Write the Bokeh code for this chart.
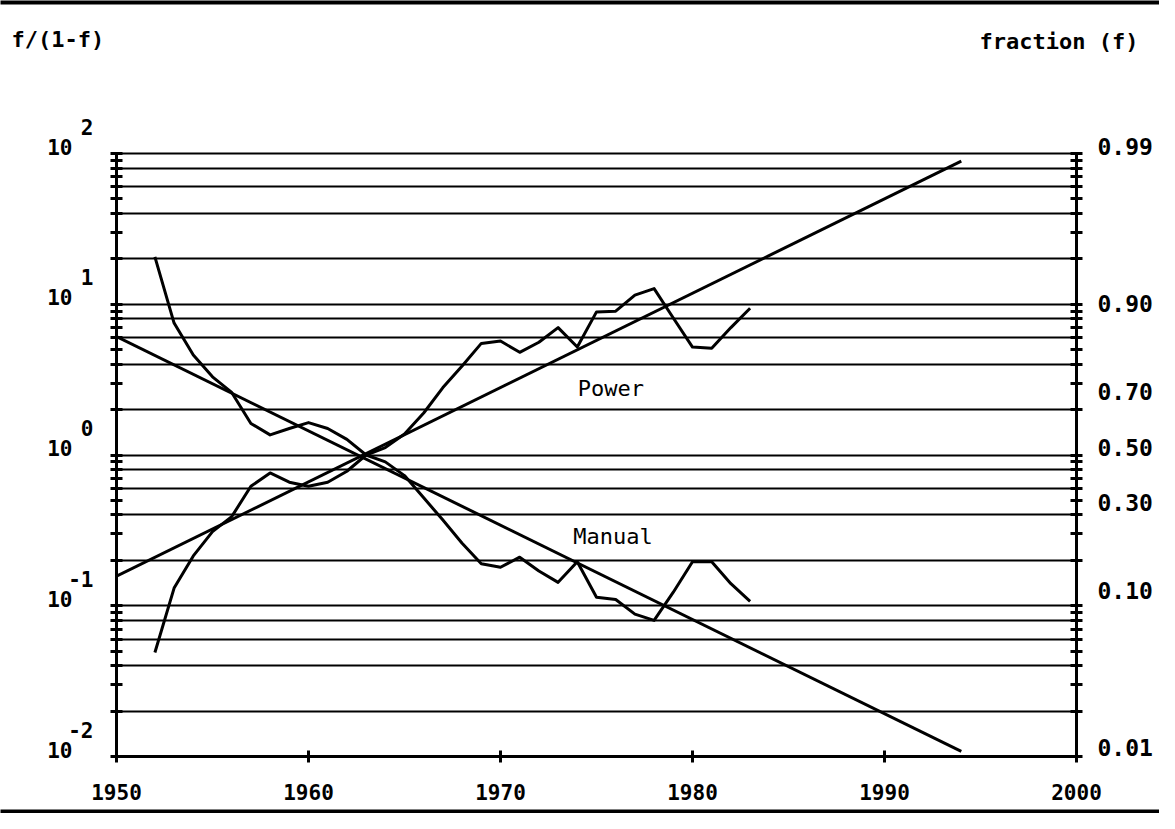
from bokeh.plotting import figure
from bokeh.models import Range1d, FixedTicker, LogAxis, Label
from bokeh.core.properties import value
from bokeh.embed import file_html
from bokeh.resources import INLINE

# ---------------- data ----------------
years = list(range(1952, 1984))
power = [0.049, 0.131, 0.214, 0.31, 0.39, 0.62, 0.76, 0.66, 0.62, 0.66, 0.78, 1.0,
         1.12, 1.38, 1.9, 2.8, 3.9, 5.5, 5.7, 4.8, 5.6, 7.0, 5.2, 8.9, 9.0, 11.5,
         12.7, 8.1, 5.2, 5.1, 7.0, 9.4]
manual = [20.6, 7.5, 4.6, 3.3, 2.6, 1.62, 1.36, 1.5, 1.64, 1.5, 1.27, 1.0,
          0.9, 0.73, 0.52, 0.37, 0.26, 0.19, 0.18, 0.21, 0.17, 0.143, 0.196, 0.114,
          0.11, 0.088, 0.08, 0.123, 0.196, 0.196, 0.14, 0.107]
fit_years = [1950, 1994]
power_fit = [0.157, 89.0]
manual_fit = [6.1, 0.0108]

x_ticks = [1950, 1960, 1970, 1980, 1990, 2000]
decades = [100, 10, 1, 0.1, 0.01]
decade_exponents = ["2", "1", "0", "-1", "-2"]
grid_multipliers = [1, 2, 4, 6, 8]
fraction_labels = ["0.99", "0.90", "0.70", "0.50", "0.30", "0.10", "0.01"]
series_names = ["Power", "Manual"]
left_title = "f/(1-f)"
right_title = "fraction (f)"

FONT = "DejaVu Sans Mono"
W, H = 1159, 813
BL, BR, BT, BB = 116, 83, 153, 57

minor_ticks = [m * 10.0 ** e for e in range(-2, 2) for m in range(1, 10)] + [100.0]
grid_values = [m * 10.0 ** e for e in range(-2, 2) for m in grid_multipliers] + [100.0]
fraction_pos = [float(s) / (1 - float(s)) for s in fraction_labels]

p = figure(width=W, height=H, output_backend="svg", toolbar_location=None,
           x_range=Range1d(1950, 2000), y_range=Range1d(0.01, 100),
           y_axis_type="log",
           min_border_left=BL, min_border_right=BR, min_border_top=BT,
           min_border_bottom=BB)
p.background_fill_color = "white"
p.border_fill_color = "white"
p.outline_line_color = "black"
p.outline_line_width = 2

# grid
p.xgrid.visible = False
p.ygrid.ticker = FixedTicker(ticks=grid_values, minor_ticks=[])
p.ygrid.grid_line_color = "black"
p.ygrid.grid_line_width = 2
p.ygrid.grid_line_alpha = 1.0

# x axis
xa = p.xaxis[0]
xa.ticker = FixedTicker(ticks=x_ticks, minor_ticks=[])
xa.axis_line_width = 3
xa.major_tick_in = 6
xa.major_tick_out = 6
xa.major_tick_line_width = 3
xa.minor_tick_line_color = None
xa.major_label_text_font = FONT
xa.major_label_text_font_style = "bold"
xa.major_label_text_font_size = "21px"
xa.major_label_text_color = "black"
xa.major_label_standoff = 21

# left y axis: tick marks at every multiple (labels drawn as text below)
ya = p.yaxis[0]
ya.ticker = FixedTicker(ticks=[], minor_ticks=minor_ticks)
ya.axis_line_width = 3
ya.major_tick_line_color = None
ya.minor_tick_in = 6
ya.minor_tick_out = 6
ya.minor_tick_line_width = 3
ya.minor_tick_line_color = "black"

# right y axis: tick marks at every multiple
ra = LogAxis(ticker=FixedTicker(ticks=[], minor_ticks=minor_ticks))
ra.axis_line_width = 3
ra.major_tick_line_color = None
ra.minor_tick_in = 6
ra.minor_tick_out = 6
ra.minor_tick_line_width = 3
ra.minor_tick_line_color = "black"
p.add_layout(ra, "right")

# lines
p.line(fit_years, power_fit, line_color="black", line_width=3)
p.line(fit_years, manual_fit, line_color="black", line_width=3)
p.line(years, power, line_color="black", line_width=3, line_join="round")
p.line(years, manual, line_color="black", line_width=3, line_join="round")

# left decade labels 10^k (drawn unclipped at overlay level)
p.text(x=[1950] * len(decades), y=decades, text=["10"] * len(decades),
       x_offset=-44, y_offset=-7, text_align="right", text_baseline="alphabetic",
       text_font=value(FONT), text_font_style="bold", text_font_size="21px",
       text_color="black", level="overlay")
p.text(x=[1950] * len(decades), y=decades, text=decade_exponents,
       x_offset=-23, y_offset=-27, text_align="right", text_baseline="alphabetic",
       text_font=value(FONT), text_font_style="bold", text_font_size="21px",
       text_color="black", level="overlay")

# right fraction labels at f/(1-f)
p.text(x=[2000] * len(fraction_pos), y=fraction_pos, text=fraction_labels,
       x_offset=21, y_offset=-8, text_align="left", text_baseline="alphabetic",
       text_font=value(FONT), text_font_style="bold", text_font_size="23px",
       text_color="black", level="overlay")

# axis titles
p.text(x=[1950], y=[100], text=[left_title], x_offset=-105, y_offset=-114,
       text_align="left", text_baseline="middle",
       text_font=value(FONT), text_font_style="bold", text_font_size="22px",
       text_color="black", level="overlay")
p.text(x=[2000], y=[100], text=[right_title], x_offset=62, y_offset=-112,
       text_align="right", text_baseline="middle",
       text_font=value(FONT), text_font_style="bold", text_font_size="22px",
       text_color="black", level="overlay")

# series labels
p.add_layout(Label(x=1975.75, y=2.78, text=series_names[0], text_align="center",
                   text_baseline="middle", text_font=FONT,
                   text_font_size="22px", text_color="black"))
p.add_layout(Label(x=1975.86, y=0.289, text=series_names[1], text_align="center",
                   text_baseline="middle", text_font=FONT,
                   text_font_size="22px", text_color="black"))

# page rules at top and bottom of the canvas
ppx = (2000 - 1950) / (W - BL - BR)
ppd = 4.0 / (H - BT - BB)
rx = [1950 - BL * ppx, 2000 + BR * ppx]
p.line(rx, [10 ** (2 + (BT - 2) * ppd)] * 2, line_color="black", line_width=4,
       level="overlay")
p.line(rx, [10 ** (-2 - (BB - 2) * ppd)] * 2, line_color="black", line_width=4,
       level="overlay")

open("out.html", "w").write(file_html(p, INLINE))
